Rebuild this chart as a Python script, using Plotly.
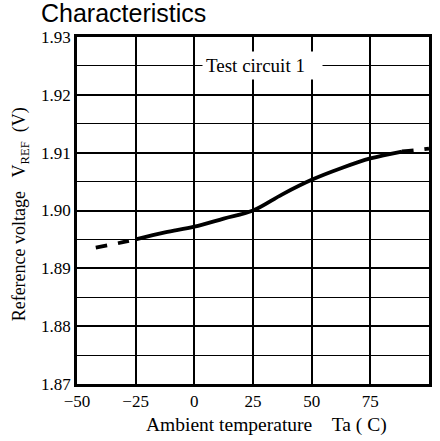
import plotly.graph_objects as go

# Data
temp_solid = [-25, -12.5, 0, 12.5, 25, 37.5, 50, 62.5, 75, 88.5]
vref_solid = [1.8950, 1.8962, 1.8972, 1.8986, 1.9000, 1.9028, 1.9053, 1.9073, 1.9090, 1.9102]
temp_dash_left = [-42, -33, -25]
vref_dash_left = [1.8936, 1.8943, 1.8950]
temp_dash_right = [88.5, 94, 100]
vref_dash_right = [1.9102, 1.9104, 1.9107]

x_tickvals = [-50, -25, 0, 25, 50, 75, 100]
x_ticktext = ["\u221250", "\u221225", "0", "25", "50", "75", "100"]

serif = "Liberation Serif, Times New Roman, serif"
sans = "Liberation Sans, Arial, sans-serif"

fig = go.Figure()
fig.add_trace(go.Scatter(x=temp_solid, y=vref_solid, mode="lines",
                         line=dict(color="black", width=3.8, shape="spline"),
                         showlegend=False, hoverinfo="skip"))
fig.add_trace(go.Scatter(x=temp_dash_left, y=vref_dash_left, mode="lines",
                         line=dict(color="black", width=3.8, dash="dash", shape="spline"),
                         showlegend=False, hoverinfo="skip"))
fig.add_trace(go.Scatter(x=temp_dash_right, y=vref_dash_right, mode="lines",
                         line=dict(color="black", width=3.8, dash="dash", shape="spline"),
                         showlegend=False, hoverinfo="skip"))

fig.update_layout(
    width=440, height=441,
    margin=dict(l=77, r=11, t=37, b=57),
    paper_bgcolor="white", plot_bgcolor="white",
    showlegend=False,
    xaxis=dict(range=[-50, 100], tickvals=x_tickvals, ticktext=x_ticktext,
               automargin=False,
               showgrid=True, gridcolor="black", gridwidth=1.5,
               showline=True, linecolor="black", linewidth=2.5, mirror=True,
               ticks="", zeroline=False,
               tickfont=dict(family=serif, size=17, color="black")),
    yaxis=dict(range=[1.87, 1.93], tickmode="linear", tick0=1.87, dtick=0.01,
               tickformat=".2f", automargin=False,
               showgrid=True, gridcolor="black", gridwidth=1.5,
               minor=dict(tick0=1.87, dtick=0.005, showgrid=True, ticks="",
                          gridcolor="black", gridwidth=1.3),
               showline=True, linecolor="black", linewidth=2.5, mirror=True,
               ticks="", zeroline=False,
               tickfont=dict(family=serif, size=17, color="black")),
    annotations=[
        dict(text="Characteristics", xref="paper", yref="paper",
             x=-0.107, y=1.07, xanchor="left", yanchor="middle", showarrow=False,
             font=dict(family=sans, size=25, color="black")),
        dict(text="Test circuit 1\u00a0\u00a0\u00a0", x=29, y=1.925, xref="x", yref="y",
             showarrow=False, bgcolor="white", borderpad=3,
             font=dict(family=serif, size=19, color="black")),
        dict(text="Ambient temperature \u00a0\u00a0\u00a0Ta ( C)", xref="paper", yref="paper",
             x=0.537, y=-0.118, xanchor="center", yanchor="middle", showarrow=False,
             font=dict(family=serif, size=19.5, color="black")),
        dict(text="Reference voltage \u00a0\u00a0V<sub>REF</sub> \u00a0(V)", xref="paper", yref="paper",
             x=-0.158, y=0.49, xanchor="center", yanchor="middle", showarrow=False,
             textangle=-90,
             font=dict(family=serif, size=18, color="black")),
    ],
)

fig.write_html("out.html")
